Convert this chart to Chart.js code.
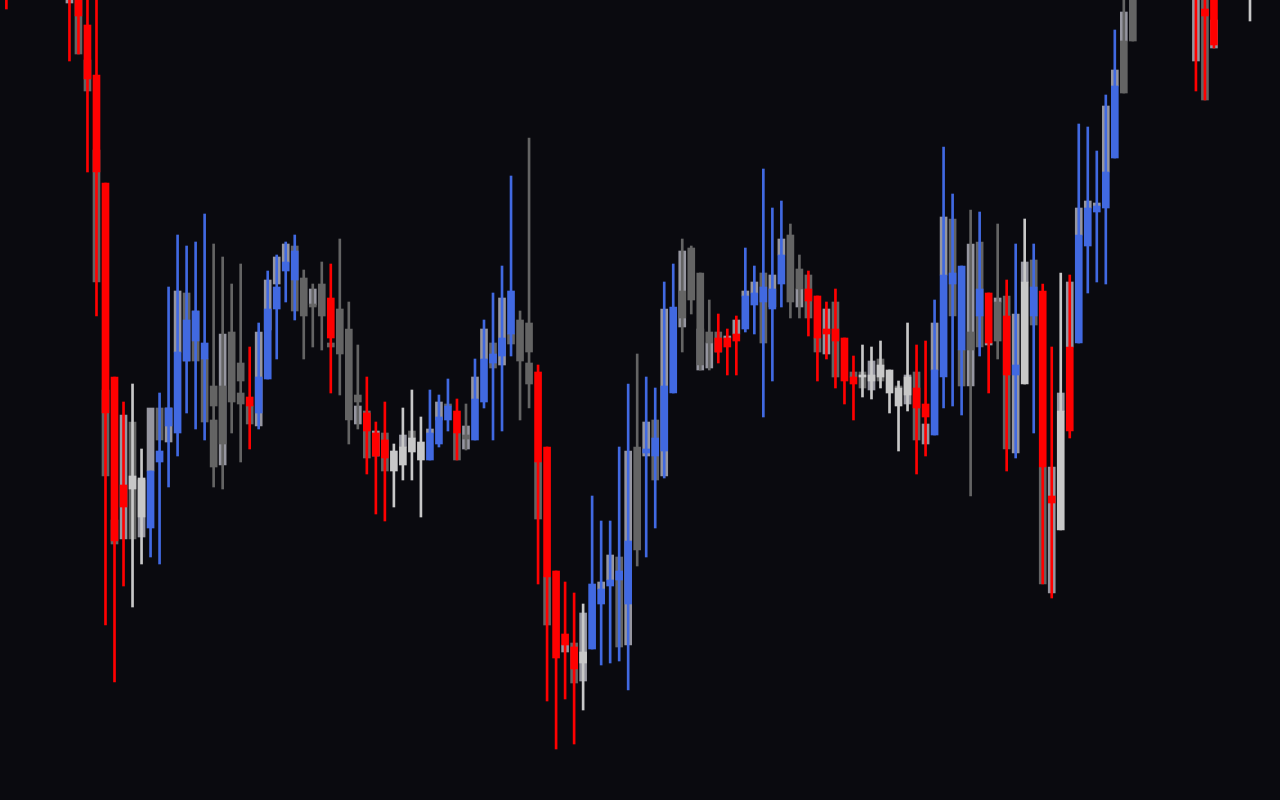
<!DOCTYPE html>
<html>
<head>
<meta charset="utf-8">
<script src="https://cdn.jsdelivr.net/npm/chart.js@4/dist/chart.umd.min.js"></script>
<style>
  html, body { margin: 0; padding: 0; background: #0a0a0f; overflow: hidden; }
  #candles { display: block; }
</style>
</head>
<body>
<canvas id="candles" width="1280" height="800"></canvas>
<script>
// candle data, one entry per bar (price units, no axis drawn)
const wickHigh = [
  183.0, 193.0, 191.5, 192.0, 189.0, 188.5, 187.0, 182.0, 181.0, 181.0,
  180.5, 161.7, 142.3, 139.8, 141.6, 135.1, 132.9, 140.7, 151.3, 156.5,
  155.4, 155.8, 158.6, 155.6, 154.3, 151.6, 153.6, 145.3, 147.7, 152.9,
  154.5, 155.8, 156.5, 153.0, 151.6, 153.8, 153.6, 156.1, 149.8, 145.5,
  142.3, 137.8, 139.8, 135.6, 139.2, 141.0, 138.3, 141.0, 140.5, 142.1,
  140.1, 139.6, 144.1, 148.0, 150.7, 153.4, 162.4, 148.9, 166.2, 143.5,
  135.3, 122.9, 121.8, 120.7, 119.6, 130.4, 127.9, 127.9, 135.3, 141.6,
  144.6, 142.3, 141.2, 151.8, 153.6, 156.1, 155.4, 152.7, 150.0, 148.6,
  147.1, 148.4, 155.2, 153.4, 163.1, 159.2, 159.9, 157.6, 154.5, 152.9,
  150.4, 149.8, 151.1, 146.2, 144.4, 145.5, 145.3, 145.9, 143.0, 141.9,
  147.7, 145.5, 145.9, 150.0, 165.3, 160.6, 153.4, 159.0, 158.8, 150.7,
  157.6, 152.0, 155.6, 158.1, 155.6, 151.6, 145.3, 152.7, 152.5, 167.6,
  167.3, 164.9, 170.5, 177.0, 181.0, 182.0, 186.0, 189.0, 190.5, 193.0,
  194.0, 192.0, 183.0, 183.0, 182.0, 188.0, 190.0, 189.0, 184.0
];
const wickLow = [
  179.1, 186.5, 185.0, 184.0, 182.5, 182.0, 181.0, 173.9, 174.6, 162.8,
  148.4, 117.5, 111.8, 121.4, 119.3, 123.6, 124.3, 123.6, 131.3, 134.4,
  138.7, 137.1, 136.0, 131.3, 131.1, 136.7, 133.8, 135.1, 137.1, 142.1,
  144.1, 149.8, 148.0, 144.1, 145.3, 145.0, 140.7, 140.5, 135.6, 137.1,
  132.6, 128.6, 127.9, 129.3, 132.0, 132.0, 128.3, 134.0, 135.3, 136.9,
  134.0, 135.0, 136.0, 139.2, 136.0, 136.9, 144.4, 138.0, 139.2, 121.6,
  109.9, 105.1, 110.1, 105.6, 109.0, 115.1, 113.5, 113.7, 113.9, 111.0,
  123.4, 124.3, 127.2, 132.2, 140.7, 144.8, 148.6, 143.0, 143.0, 143.7,
  142.5, 142.5, 146.8, 146.6, 138.3, 141.9, 149.3, 148.2, 148.2, 146.4,
  141.9, 144.1, 141.2, 139.6, 138.0, 140.3, 140.1, 141.2, 138.7, 134.9,
  138.9, 132.6, 134.4, 136.5, 139.2, 139.4, 138.5, 130.4, 144.4, 140.7,
  144.1, 132.9, 134.2, 141.6, 136.7, 121.6, 120.2, 127.0, 136.2, 145.7,
  150.7, 151.8, 151.6, 164.2, 170.7, 175.9, 180.5, 182.0, 183.5, 185.0,
  187.0, 184.0, 170.9, 170.0, 175.2, 181.0, 183.0, 182.5, 177.9
];
const bodyHigh = [
  188.0, 192.0, 190.0, 190.5, 188.0, 187.0, 186.0, 186.0, 184.0, 177.5,
  172.5, 161.7, 142.3, 131.5, 132.4, 132.2, 132.9, 134.9, 139.2, 144.8,
  148.0, 148.9, 145.7, 141.4, 141.4, 146.8, 143.7, 140.3, 142.3, 149.1,
  151.3, 153.8, 154.9, 152.2, 149.6, 151.6, 150.2, 149.1, 147.1, 140.5,
  138.7, 136.7, 136.0, 134.9, 135.3, 136.2, 135.8, 136.7, 138.3, 139.4,
  138.9, 136.5, 140.1, 144.1, 144.6, 146.2, 150.9, 148.0, 147.7, 142.8,
  135.3, 122.9, 116.6, 115.3, 114.8, 121.6, 121.1, 122.0, 122.9, 125.9,
  135.3, 135.1, 136.2, 141.4, 149.3, 150.9, 155.2, 152.7, 146.8, 146.2,
  146.2, 146.6, 150.4, 150.7, 151.3, 151.1, 154.5, 156.5, 153.1, 151.1,
  150.4, 147.1, 147.1, 146.2, 142.3, 142.5, 142.5, 143.5, 143.0, 141.2,
  142.3, 141.2, 139.6, 143.0, 152.5, 152.7, 153.4, 146.8, 151.1, 150.7,
  149.8, 148.4, 143.5, 151.8, 151.3, 150.9, 130.4, 138.9, 145.3, 156.5,
  159.2, 159.4, 162.8, 171.4, 175.9, 181.0, 185.0, 188.0, 189.0, 192.0,
  193.0, 191.0, 185.0, 179.1, 183.0, 187.0, 189.0, 188.0, 186.0
];
const bodyLow = [
  182.0, 187.5, 186.0, 185.5, 183.5, 183.0, 182.0, 180.5, 178.4, 172.1,
  162.8, 138.7, 125.9, 129.3, 131.1, 128.3, 127.2, 133.8, 137.4, 136.7,
  143.9, 145.9, 144.1, 139.4, 135.6, 139.8, 141.9, 139.4, 138.7, 142.1,
  149.1, 152.9, 152.0, 148.4, 149.3, 148.4, 146.2, 144.6, 138.0, 139.8,
  136.9, 134.4, 134.2, 132.9, 133.5, 134.8, 134.0, 134.0, 135.6, 138.0,
  136.7, 136.1, 136.0, 139.8, 143.7, 144.4, 146.6, 143.9, 144.8, 133.8,
  122.3, 114.2, 115.5, 113.1, 113.7, 115.1, 119.6, 121.4, 122.0, 119.6,
  125.0, 134.7, 134.4, 134.9, 140.7, 148.2, 150.0, 143.5, 145.7, 144.8,
  145.3, 145.9, 147.1, 149.5, 149.8, 149.1, 151.6, 149.8, 151.1, 149.9,
  146.2, 146.6, 145.9, 141.9, 141.6, 142.3, 141.9, 142.3, 140.7, 139.4,
  140.5, 139.2, 138.3, 136.5, 142.3, 151.6, 145.0, 145.0, 148.4, 145.7,
  145.9, 142.5, 142.5, 141.6, 148.4, 133.3, 129.7, 127.0, 136.9, 145.7,
  155.4, 158.8, 159.2, 164.2, 170.7, 175.9, 181.5, 183.0, 185.0, 186.5,
  188.0, 185.0, 180.5, 178.4, 175.5, 182.0, 184.0, 183.5, 180.5
];
// the grey block drawn behind each candle (null = none)
const shadowHigh = [
  null, null, null, null, null, null, null, 183.0, 180.0, 174.0,
  165.0, 141.0, 128.0, 138.5, 137.8, 132.0, 139.2, 139.2, 139.2, 150.9,
  150.7, 148.9, 144.1, 138.0, 146.6, null, 140.7, 139.4, 146.8, 152.0,
  154.3, 155.6, 155.4, null, 151.1, null, 145.7, null, null, 139.4,
  138.9, 136.9, 136.7, null, 136.5, 136.9, null, 137.1, 139.8, 139.6,
  136.7, 137.4, 142.3, 147.1, 145.7, 150.2, 146.6, null, 143.7, 133.8,
  122.3, null, 115.5, 115.7, 118.7, null, 121.8, 124.5, 124.3, 134.9,
  null, 137.8, 138.0, 149.1, null, 154.9, null, 147.1, 145.7, 146.8,
  146.4, 148.0, 150.9, 151.8, 152.7, 152.5, 156.1, null, 151.1, 152.5,
  146.2, 149.1, 149.8, null, 142.8, 142.8, 143.9, 144.1, null, 141.4,
  142.5, 142.8, 137.6, 147.7, 158.3, 158.1, 145.0, 155.6, 155.8, 145.7,
  150.2, 150.4, 148.6, 153.8, 154.0, 133.3, 133.3, 140.7, 151.8, 159.2,
  159.9, 159.7, 169.4, 173.0, 178.8, null, null, null, null, null,
  null, null, 182.0, 181.0, 178.0, null, null, null, null
];
const shadowLow = [
  null, null, null, null, null, null, null, 179.7, 174.6, 170.9,
  151.8, 132.4, 125.6, 126.1, 126.1, 126.3, 132.9, 136.0, 135.8, 144.8,
  143.9, 143.9, 137.8, 133.3, 133.5, null, 139.6, 137.6, 137.4, 147.0,
  151.6, 153.8, 148.9, null, 149.5, null, 145.3, null, null, 137.6,
  134.2, 134.4, 132.9, null, 135.3, 136.2, null, 136.7, 138.0, 139.4,
  134.0, 135.1, 140.1, 144.1, 143.2, 143.5, 145.6, null, 141.6, 128.1,
  117.5, null, 114.8, 111.7, 111.9, null, 121.1, 122.0, 115.3, 115.5,
  null, 134.4, 132.0, 132.4, null, 147.3, null, 143.0, 143.2, 144.8,
  146.2, 146.6, 150.4, 150.7, 145.7, 149.3, 154.5, null, 149.3, 148.2,
  144.8, 144.6, 142.3, null, 142.3, 141.2, 141.0, 141.9, null, 141.2,
  139.6, 136.0, 135.6, 143.0, 152.5, 148.4, 141.4, 141.4, 145.3, 145.5,
  149.8, 135.1, 134.7, 151.8, 147.5, 121.6, 120.7, 138.9, 145.3, 156.5,
  159.2, 159.4, 162.8, 171.4, 175.9, null, null, null, null, null,
  null, null, 173.9, 170.0, 175.2, null, null, null, null
];
// R red, B blue, L light grey, D dark grey, M mid grey, - none
const bodyTone =
  "RRBRRDRRRR" + "RRRRLLBBBB" + "BBBDDDDRBB" + "BBBDDDRDDD" + "RRRLLLLBBB" +
  "RDBBBBBDDR" + "RRRRLBBBBB" + "DBBBBDDDDR" + "RRBBBBBDDR" + "RRRRRLLLLL" +
  "LRRBBBBDBR" + "DRBLBRRLRB" + "BBBBDDBBDB" + "RRRRRBBRL";
const shadowTone =
  "-------MDD" + "DDDMDMMDMM" + "DDDDM-DDMM" + "MMD-M-D--M" + "DMD-MD-MMD" +
  "DMMMDMD-DD" + "D-MDM-MMDM" + "-MDM-M-MMD" + "MMMMDMM-MD" + "DMD-DDMD-D" +
  "MDMMMDDMDM" + "MDMMDDMMMM" + "MMMMM-----" + "--MDM----";

const palette = {
  R: "#ff0000",
  B: "#4169e1",
  L: "#c8c8c8",
  D: "#646464",
  M: "#9696a0",
  "-": "rgba(0,0,0,0)",
};

const idx = wickHigh.map((_, i) => i);
const range = (lo, hi) => idx.map((i) =>
  ({ x: i, y: hi[i] == null ? null : [lo[i], hi[i]] }));
const colours = (tones) => idx.map((i) => palette[tones[i]]);

const ctx = document.getElementById("candles").getContext("2d");
new Chart(ctx, {
  type: "bar",
  data: {
    datasets: [
      {
        label: "body",
        data: range(bodyLow, bodyHigh),
        backgroundColor: colours(bodyTone),
        barThickness: 7,
        grouped: false,
        order: 1,
      },
      {
        label: "wick",
        data: range(wickLow, wickHigh),
        backgroundColor: colours(bodyTone),
        barThickness: 2,
        grouped: false,
        order: 2,
      },
      {
        label: "shadow",
        data: range(shadowLow, shadowHigh),
        backgroundColor: colours(shadowTone),
        barThickness: 7,
        grouped: false,
        order: 3,
      },
    ],
  },
  options: {
    responsive: false,
    animation: false,
    layout: { padding: 0 },
    plugins: {
      legend: { display: false },
      tooltip: { enabled: false },
    },
    scales: {
      x: { type: "linear", offset: false, min: -0.707, max: 141.33, display: false },
      y: { min: 100, max: 180, display: false },
    },
  },
});
</script>
</body>
</html>
